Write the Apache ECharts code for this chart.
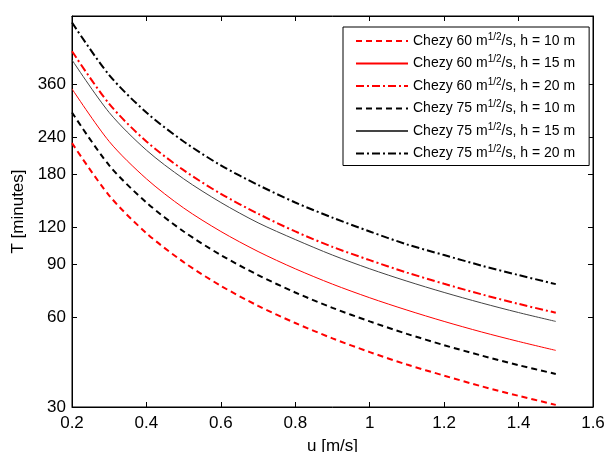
<!DOCTYPE html>
<html><head><meta charset="utf-8">
<script src="https://cdn.jsdelivr.net/npm/echarts@6/dist/echarts.min.js"></script>
<style>html,body{margin:0;padding:0;background:#fff}#c{width:605px;height:452px}</style>
</head><body><div id="c"></div>
<script>
const u = [0.2,0.3,0.4,0.5,0.6,0.7,0.8,0.9,1.0,1.1,1.2,1.3,1.4,1.5];
const c60h10 = [229,153,114.5,91.6,76.3,65.4,57.3,50.9,45.8,41.6,38.2,35.2,32.7,30.5];
const c60h15 = [348,232,174,139,116,99.4,87,77.3,69.6,63.3,58,53.5,49.7,46.4];
const c60h20 = [465,310,232,186,155,133,116,103,93,84.5,77.5,71.5,66.4,62];
const c75h10 = [290,193,145,116,96.7,82.9,72.5,64.4,58,52.7,48.3,44.6,41.4,38.7];
const c75h15 = [435,290,217,174,145,124,109,96.7,87,79.1,72.5,66.9,62.1,58];
const c75h20 = [580,387,290,232,193,166,145,129,116,105,96.7,89.2,82.9,77.3];
const yTicks = [30,60,90,120,180,240,360];
const names = [
  'Chezy 60 m{s|1/2}/s, h = 10 m',
  'Chezy 60 m{s|1/2}/s, h = 15 m',
  'Chezy 60 m{s|1/2}/s, h = 20 m',
  'Chezy 75 m{s|1/2}/s, h = 10 m',
  'Chezy 75 m{s|1/2}/s, h = 15 m',
  'Chezy 75 m{s|1/2}/s, h = 20 m'
];
const seriesData = [c60h10,c60h15,c60h20,c75h10,c75h15,c75h20];
const styles = [
  {color:'#ff0000', width:2, type:[6,4]},
  {color:'#ff0000', width:1, type:'solid'},
  {color:'#ff0000', width:2, type:[8,3,2,3]},
  {color:'#000000', width:2, type:[6,4]},
  {color:'#444444', width:1, type:'solid'},
  {color:'#000000', width:2, type:[8,3,2,3]}
];
const FONT = 'Liberation Sans, Arial, sans-serif';
const chart = echarts.init(document.getElementById('c'), null, {renderer:'canvas'});
const yBase = {
  type:'log', min:30, max:610, logBase:10,
  splitLine:{show:false}, minorTick:{show:false},
  axisLine:{show:true, lineStyle:{color:'#000'}},
  axisTick:{show:true, inside:true, length:5, customValues:yTicks, lineStyle:{color:'#000'}},
};
const xBase = {
  type:'value', min:0.2, max:1.6, interval:0.2,
  splitLine:{show:false},
  axisLine:{show:true, onZero:false, lineStyle:{color:'#000'}},
  axisTick:{show:true, inside:true, length:5, lineStyle:{color:'#000'}},
};
chart.setOption({
  animation:false,
  textStyle:{fontFamily:FONT},
  grid:{left:72, right:12, top:16, bottom:45, show:true, borderColor:'#000', borderWidth:1,
    outerBoundsMode:'none', containLabel:false},
  xAxis:[
    Object.assign({}, xBase, {position:'bottom', name:'u [m/s]', nameLocation:'middle', nameGap:31,
      nameTextStyle:{fontSize:17, color:'#000', fontFamily:FONT},
      axisLabel:{fontSize:17, color:'#000', margin:8, fontFamily:FONT, formatter:v=>String(+v.toFixed(1))}}),
    Object.assign({}, xBase, {position:'top', axisLabel:{show:false}})
  ],
  yAxis:[
    Object.assign({}, yBase, {position:'left', name:'T [minutes]', nameLocation:'middle', nameGap:41,
      nameTextStyle:{fontSize:17, color:'#000', fontFamily:FONT},
      axisLabel:{fontSize:17, color:'#000', margin:6, fontFamily:FONT, customValues:yTicks, formatter:v=>String(Math.round(v))}}),
    Object.assign({}, yBase, {position:'right', axisLabel:{show:false}})
  ],
  legend:{
    orient:'vertical', left:343, top:27,
    padding:[5,14,5,12], itemGap:6.5, itemWidth:52, itemHeight:15,
    backgroundColor:'#fff', borderColor:'#000', borderWidth:1,
    itemStyle:{opacity:0},
    textStyle:{fontSize:14, color:'#000', fontFamily:FONT,
      rich:{s:{fontSize:10, verticalAlign:'top', padding:[0,0,8,0], fontFamily:FONT, color:'#000'}}},
    data:names
  },
  series: seriesData.map((d,i)=>({
    name:names[i], type:'line', xAxisIndex:0, yAxisIndex:0,
    showSymbol:false, symbol:'none', smooth:0.3,
    lineStyle:styles[i], itemStyle:{color:styles[i].color},
    data:u.map((x,j)=>[x,d[j]])
  }))
});
</script></body></html>
